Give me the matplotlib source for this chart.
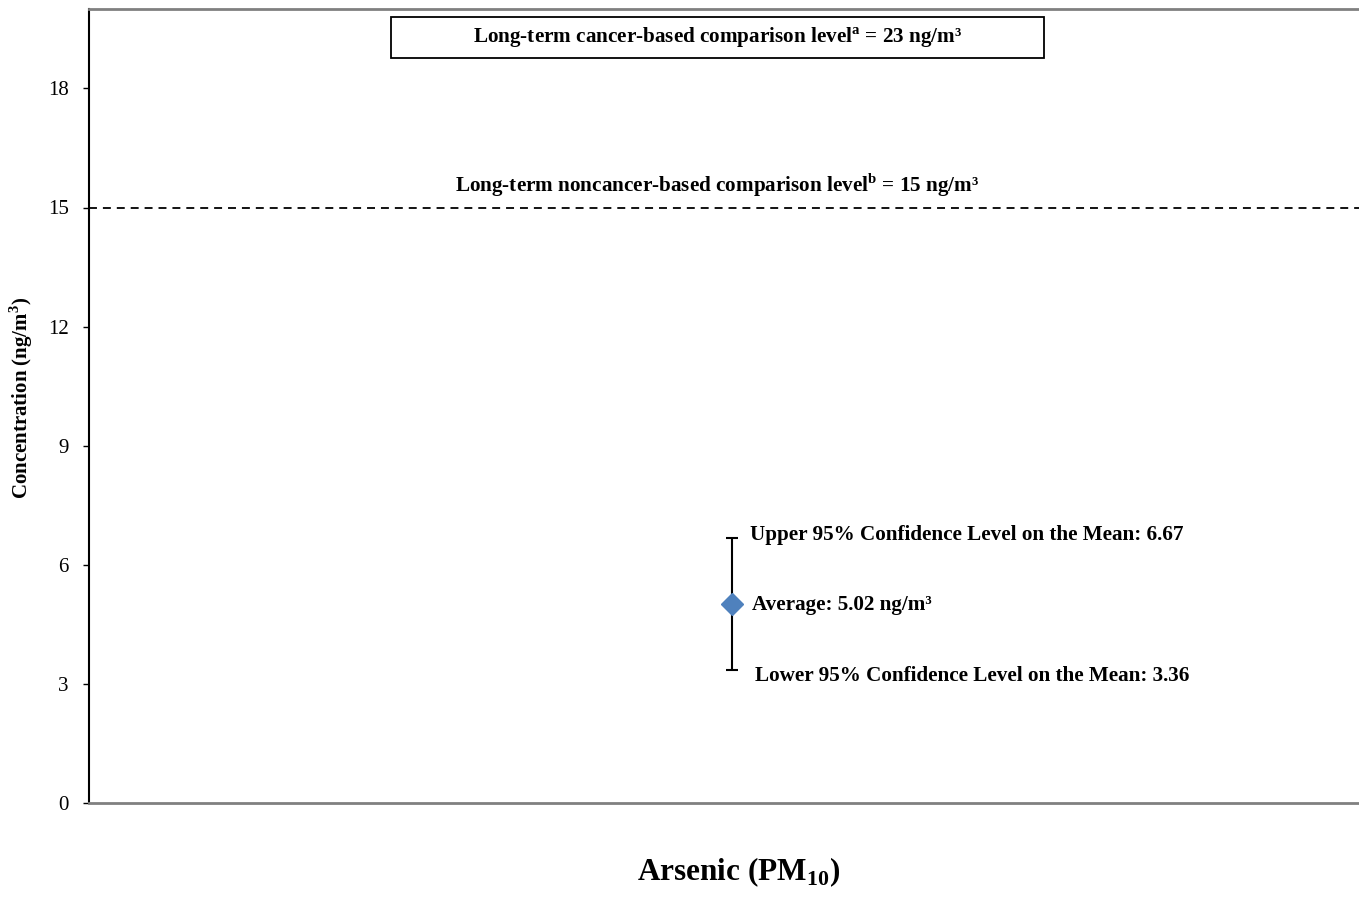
import matplotlib
matplotlib.use("Agg")
import matplotlib.pyplot as plt
from matplotlib.patches import Rectangle

plt.rcParams['font.family'] = ['Liberation Serif', 'DejaVu Serif']
plt.rcParams['mathtext.fontset'] = 'custom'
plt.rcParams['mathtext.rm'] = 'Liberation Serif'
plt.rcParams['mathtext.bf'] = 'Liberation Serif:bold'

# Data
categories = ["Arsenic (PM$_{\\mathbf{10}}$)"]
average = [5.02]
lower_ci = [3.36]
upper_ci = [6.67]
cancer_level = 23
noncancer_level = 15
yticks = [0, 3, 6, 9, 12, 15, 18]

fig = plt.figure(figsize=(13.59, 8.98), dpi=100)
ax = fig.add_axes([89/1359, 95/898, (1375-89)/1359, (803-9)/898])

x = [0]
yerr_low = [a - l for a, l in zip(average, lower_ci)]
yerr_high = [u - a for a, u in zip(average, upper_ci)]
ax.errorbar(x, average, yerr=[yerr_low, yerr_high], fmt='none', ecolor='black',
            elinewidth=1.5, capsize=4, capthick=1.5, zorder=2)
ax.plot(x, average, marker='D', markersize=11, color='#4F81BD', markeredgecolor='#4F81BD',
        linestyle='none', zorder=3)

ax.axhline(noncancer_level, color='black', linestyle=(0, (4.4, 3.3)), linewidth=1.3)

ax.set_xlim(-1, 1)
ax.set_ylim(0, 20)
ax.set_yticks(yticks)
ax.set_xticks([])
ax.tick_params(axis='y', labelsize=15, length=4.5, width=1, direction='out', pad=10)

for s in ['top', 'bottom', 'right']:
    ax.spines[s].set_color('#808080')
    ax.spines[s].set_linewidth(2)
ax.spines['left'].set_color('black')
ax.spines['left'].set_linewidth(1.5)

ax.set_ylabel("Concentration (ng/m$^\\mathbf{3}$)", fontsize=15, fontweight='bold')
ax.yaxis.set_label_coords((35 - 89) / 1286, 0.51)
ax.set_xlabel(categories[0], fontsize=22.5, fontweight='bold')
ax.xaxis.set_label_coords(0.505, -(872 - 803) / 794)
ax.xaxis.label.set_va('center')

# annotations
fs = 15.2
ax.text(0.028, 6.75, f"Upper 95% Confidence Level on the Mean: {upper_ci[0]:.2f}",
        fontsize=fs, fontweight='bold', ha='left', va='center')
ax.text(0.031, 4.99, f"Average: {average[0]:.2f} ng/m³",
        fontsize=fs, fontweight='bold', ha='left', va='center')
ax.text(0.036, 3.2, f"Lower 95% Confidence Level on the Mean: {lower_ci[0]:.2f}",
        fontsize=fs, fontweight='bold', ha='left', va='center')

ax.text(-0.023, 15.57,
        "Long-term noncancer-based comparison level$^{\\mathbf{b}}$ = %d ng/m³" % noncancer_level,
        fontsize=fs, fontweight='bold', ha='center', va='center')

# box for cancer-based level
bx0 = (391 - 732) / 643
bx1 = (1044 - 732) / 643
by0 = (803 - 58) / 39.7
by1 = (803 - 17) / 39.7
ax.add_patch(Rectangle((bx0, by0), bx1 - bx0, by1 - by0, facecolor='white',
                       edgecolor='black', linewidth=1.3, zorder=4))
ax.text((bx0 + bx1) / 2, (by0 + by1) / 2,
        "Long-term cancer-based comparison level$^{\\mathbf{a}}$ = %d ng/m³" % cancer_level,
        fontsize=fs, fontweight='bold', ha='center', va='center', zorder=5)

fig.savefig("out.png", dpi=100)
